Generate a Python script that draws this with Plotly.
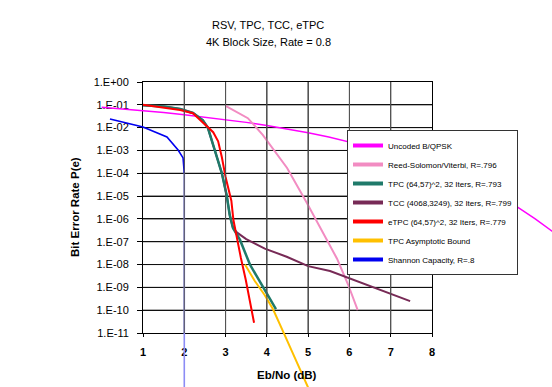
import plotly.graph_objects as go

# ---------------- data ----------------
ebno_uncoded = [0, 0.5, 1, 1.5, 2, 2.5, 3, 3.5, 4, 4.5, 5, 5.5, 6, 6.5, 7, 7.5, 8, 8.5, 9, 9.5, 10, 10.5, 11]
ber_uncoded = [0.079, 0.067, 0.056, 0.046, 0.037, 0.029, 0.023, 0.017, 0.0125, 0.0088, 0.006, 0.0039,
               0.0024, 0.0014, 7.7e-4, 4e-4, 1.9e-4, 8.5e-5, 3.4e-5, 1.2e-5, 4e-6, 1.0e-6, 2.2e-7]

ebno_rsv = [3.0, 3.25, 3.54, 3.9, 4.2, 4.49, 4.97, 5.46, 5.7, 5.97, 6.2]
ber_rsv = [0.089, 0.05, 0.026, 4.8e-3, 8.9e-4, 1.7e-4, 5e-6, 1.1e-7, 1.8e-8, 1.3e-9, 1e-10]

ebno_tpc = [1.0, 1.5, 1.9, 2.21, 2.45, 2.57, 2.74, 2.91, 3.03, 3.1, 3.18, 3.35, 3.59, 3.91, 4.22]
ber_tpc = [0.095, 0.085, 0.065, 0.044, 0.021, 0.01, 1e-3, 1e-4, 1e-5, 1.5e-6, 4e-7, 1.2e-7, 1e-8, 1e-9, 1.1e-10]

ebno_tcc = [1.0, 1.5, 1.9, 2.21, 2.45, 2.57, 2.74, 2.91, 3.03, 3.1, 3.18, 3.28, 3.5, 3.95, 4.48, 5.0,
            5.53, 5.97, 6.57, 6.98, 7.47]
ber_tcc = [0.095, 0.085, 0.065, 0.044, 0.021, 0.01, 1e-3, 1e-4, 1e-5, 1.5e-6, 4e-7, 2.5e-7, 1.3e-7,
           5e-8, 2.2e-8, 8.5e-9, 5.2e-9, 2.6e-9, 1.05e-9, 5.6e-10, 2.5e-10]

ebno_etpc = [1.0, 1.41, 1.9, 2.21, 2.45, 2.7, 2.82, 2.91, 3.0, 3.14, 3.19, 3.28, 3.37, 3.49, 3.59, 3.69]
ber_etpc = [0.1, 0.08, 0.059, 0.043, 0.017, 6.3e-3, 2.5e-3, 5e-4, 6.9e-5, 6.3e-6, 8.9e-7, 1.2e-7,
            2e-8, 2.1e-9, 2.8e-10, 2.8e-11]

ebno_bound = [3.47, 3.7, 3.95, 4.15, 4.4, 4.7, 5.0, 5.1]
ber_bound = [1e-8, 2e-9, 4.5e-10, 1.1e-10, 1.1e-11, 7e-13, 4.3e-14, 1.6e-14]

ebno_shannon = [0.2, 1.0, 1.58, 1.85, 1.97, 2.0, 2.0]
ber_shannon = [0.024, 0.0107, 0.0039, 0.00105, 4.7e-4, 1e-4, 1e-15]

series_names = ["Uncoded B/QPSK", "Reed-Solomon/Viterbi, R=.796", "TPC (64,57)^2, 32 Iters, R=.793",
                "TCC (4068,3249), 32 Iters, R=.799", "eTPC (64,57)^2, 32 Iters, R=.779",
                "TPC Asymptotic Bound", "Shannon Capacity, R=.8"]
x_ticks = [1, 2, 3, 4, 5, 6, 7, 8]
x_minor_ticks = [1.5, 2.5, 3.5, 4.5, 5.5, 6.5, 7.5]
y_exps = list(range(0, -12, -1))
y_tick_text = ["1.E+00"] + ["1.E-%02d" % (-e) for e in y_exps[1:]]

# ---------------- styling / layout geometry ----------------
W, H = 552, 387
colors = ["#FF00FF", "#F28CC2", "#1F7A6A", "#772A56", "#FF0000", "#FFC000", "#0000F0"]
widths = [1.5, 2, 2.5, 2, 2, 2, 1.6]
FONT = "Liberation Sans, Arial, sans-serif"
VGRID = "#555555"
HGRID = "#111111"

# framed plot area in pixels
px_l, px_r, py_t, py_b = 143, 432, 82, 333
x0, x1 = px_l / W, px_r / W
y0, y1 = 1 - py_b / H, 1 - py_t / H
xr = (1, 8)
yr = (-11, 0)
sx = (xr[1] - xr[0]) / (x1 - x0)
sy = (yr[1] - yr[0]) / (y1 - y0)
# full-figure data axes with the same scale, so lines may run past the frame
xfull_range = [xr[0] - x0 * sx, xr[1] + (1 - x1) * sx]
yfull_range = [yr[0] - y0 * sy, yr[1] + (1 - y1) * sy]

fig = go.Figure()

# empty trace on the framed subplot (frame, ticks and tick labels)
fig.add_trace(go.Scatter(x=[None], y=[None], mode="lines", xaxis="x", yaxis="y",
                         showlegend=False, hoverinfo="skip"))

# grid lines built from the tick arrays, drawn on the data axes beneath the curves
gx, gy = [], []
for xv in x_ticks[1:-1]:
    gx += [xv, xv, None]
    gy += [10.0 ** yr[0], 10.0 ** yr[1], None]
fig.add_trace(go.Scatter(x=gx, y=gy, mode="lines", line=dict(color=VGRID, width=1),
                         xaxis="x2", yaxis="y2", showlegend=False, hoverinfo="skip"))
hx, hy = [], []
for e in y_exps[1:-1]:
    hx += [xr[0], xr[1], None]
    hy += [10.0 ** e, 10.0 ** e, None]
fig.add_trace(go.Scatter(x=hx, y=hy, mode="lines", line=dict(color=HGRID, width=1),
                         xaxis="x2", yaxis="y2", showlegend=False, hoverinfo="skip"))

data = [(ebno_uncoded, ber_uncoded), (ebno_rsv, ber_rsv), (ebno_tpc, ber_tpc), (ebno_tcc, ber_tcc),
        (ebno_etpc, ber_etpc), (ebno_bound, ber_bound), (ebno_shannon, ber_shannon)]

# draw order: shannon, uncoded, rsv, tcc, tpc, etpc, bound
order = [6, 0, 1, 3, 2, 4, 5]
for i in order:
    xs, ys = data[i]
    if i == 6:
        fig.add_trace(go.Scatter(x=xs[:6], y=ys[:6], mode="lines", name=series_names[i],
                                 line=dict(color=colors[i], width=widths[i]),
                                 xaxis="x2", yaxis="y2", showlegend=False, legendgroup=str(i)))
        fig.add_trace(go.Scatter(x=xs[5:], y=ys[5:], mode="lines", name=series_names[i],
                                 line=dict(color="#8C8CF5", width=1.6),
                                 xaxis="x2", yaxis="y2", showlegend=False, legendgroup=str(i)))
        continue
    fig.add_trace(go.Scatter(x=xs, y=ys, mode="lines", name=series_names[i],
                             line=dict(color=colors[i], width=widths[i]),
                             xaxis="x2", yaxis="y2", showlegend=False, legendgroup=str(i)))

# legend entries (thick swatches like the original)
for i in range(7):
    fig.add_trace(go.Scatter(x=[None], y=[None], mode="lines", name=series_names[i],
                             line=dict(color=colors[i], width=4),
                             xaxis="x2", yaxis="y2", showlegend=True, legendgroup=str(i)))

# extra grid lines as shapes on the framed axes (shapes on log axes take log10 units)
for xv in x_ticks[1:-1]:
    fig.add_shape(type="line", xref="x", yref="y domain", x0=xv, x1=xv, y0=0, y1=1,
                  line=dict(color=VGRID, width=1), layer="above")
for e in y_exps[1:-1]:
    fig.add_shape(type="line", xref="x domain", yref="y", x0=0, x1=1, y0=e, y1=e,
                  line=dict(color=HGRID, width=1), layer="above")

annotations = [
    dict(text="RSV, TPC, TCC, eTPC", x=268 / W, y=1 - 25 / H, xref="paper", yref="paper",
         showarrow=False, font=dict(size=11, family=FONT, color="black"), xanchor="center", yanchor="middle"),
    dict(text="4K Block Size, Rate = 0.8", x=268 / W, y=1 - 42 / H, xref="paper", yref="paper",
         showarrow=False, font=dict(size=11, family=FONT, color="black"), xanchor="center", yanchor="middle"),
    dict(text="<b>Eb/No (dB)</b>", x=287 / W, y=1 - 375 / H, xref="paper", yref="paper",
         showarrow=False, font=dict(size=11.5, family=FONT, color="black"), xanchor="center", yanchor="middle"),
    dict(text="<b>Bit Error Rate P(e)</b>", x=75 / W, y=1 - 207 / H, xref="paper", yref="paper",
         showarrow=False, textangle=-90, font=dict(size=11.5, family=FONT, color="black"),
         xanchor="center", yanchor="middle"),
]

fig.update_layout(
    template="none",
    width=W, height=H,
    margin=dict(l=0, r=0, t=0, b=0, pad=0),
    paper_bgcolor="white",
    plot_bgcolor="rgba(255,255,255,0)",
    font=dict(family=FONT, color="black"),
    xaxis=dict(domain=[x0, x1], range=list(xr), anchor="y", tickmode="array", tickvals=x_ticks,
               ticks="outside", ticklen=3, tickcolor="black", showline=True, linecolor="black",
               mirror=True, showgrid=True, gridcolor=VGRID, gridwidth=1, zeroline=False,
               tickfont=dict(size=11, family=FONT, color="black", weight="bold"),
               ticklabelstandoff=6, automargin=False, fixedrange=True),
    yaxis=dict(domain=[y0, y1], type="log", range=list(yr), anchor="x", tickmode="array",
               tickvals=[10.0 ** e for e in y_exps], ticktext=y_tick_text,
               ticks="outside", ticklen=5, tickcolor="black", showline=True, linecolor="black",
               mirror=True, showgrid=True, gridcolor=HGRID, gridwidth=1, zeroline=False,
               tickfont=dict(size=11, family=FONT, color="black"), ticklabelstandoff=6,
               automargin=False, fixedrange=True),
    xaxis3=dict(overlaying="x", side="top", anchor="y", range=list(xr),
                tickmode="array", tickvals=x_minor_ticks,
                ticks="outside", ticklen=4, tickcolor="black", showticklabels=False,
                showgrid=False, showline=False, zeroline=False, automargin=False, fixedrange=True),
    xaxis2=dict(domain=[0, 1], range=xfull_range, anchor="y2", visible=False, showgrid=False,
                zeroline=False, fixedrange=True),
    yaxis2=dict(domain=[0, 1], type="log", range=yfull_range, anchor="x2", visible=False,
                showgrid=False, zeroline=False, fixedrange=True),
    legend=dict(x=347 / W, y=1 - 130 / H, xanchor="left", yanchor="top", bgcolor="white",
                bordercolor="#333333", borderwidth=1, font=dict(size=8, family=FONT, color="black"),
                tracegroupgap=0, itemwidth=30, entrywidth=125),
    annotations=annotations,
    showlegend=True,
)

fig.write_html("out.html", config={"displayModeBar": False},
               post_script="document.body.style.margin='0';document.body.style.overflow='hidden';")
